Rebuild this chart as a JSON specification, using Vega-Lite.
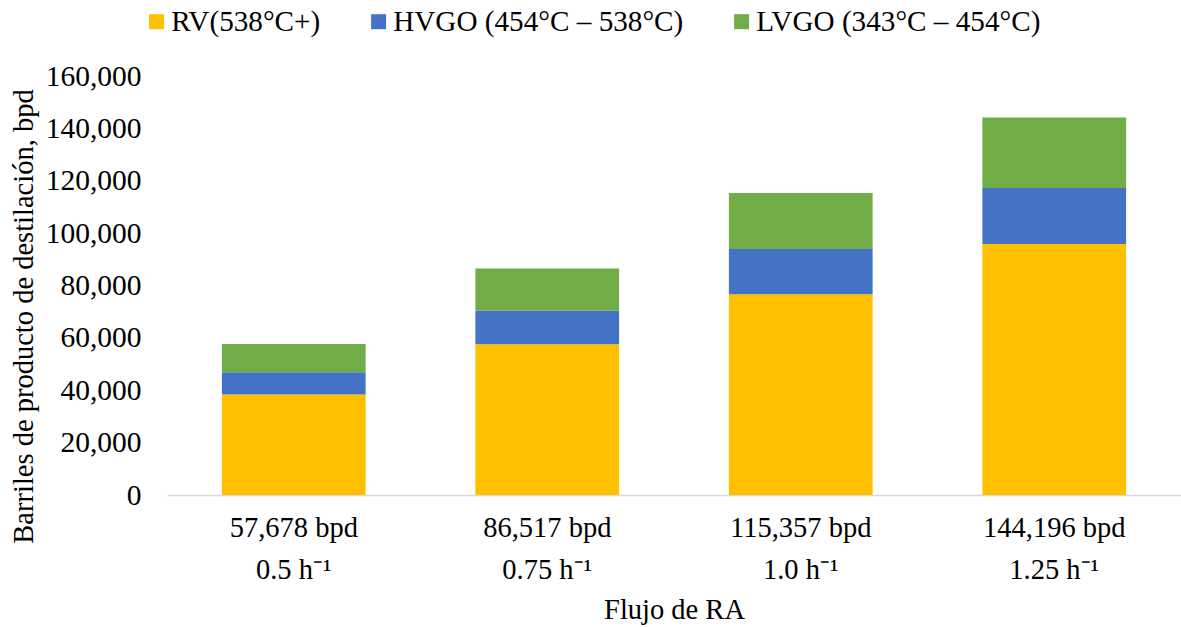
{
  "$schema": "https://vega.github.io/schema/vega-lite/v6.json",
  "autosize": {"type": "none"},
  "width": 1014,
  "height": 419,
  "padding": {"left": 167, "top": 76, "right": 0, "bottom": 132},
  "background": "#ffffff",
  "config": {
    "view": {"stroke": null},
    "font": "Liberation Serif",
    "axis": {"labelFont": "Liberation Serif", "titleFont": "Liberation Serif", "labelColor": "#000000", "titleColor": "#000000", "titleFontWeight": "normal"},
    "legend": {"labelFont": "Liberation Serif", "labelColor": "#000000"}
  },
  "data": {
    "values": [
      {"flujo": "57,678 bpd|0.5 h⁻¹", "fraccion": "RV(538°C+)", "orden": 1, "bpd": 38400},
      {"flujo": "57,678 bpd|0.5 h⁻¹", "fraccion": "HVGO (454°C – 538°C)", "orden": 2, "bpd": 8500},
      {"flujo": "57,678 bpd|0.5 h⁻¹", "fraccion": "LVGO (343°C – 454°C)", "orden": 3, "bpd": 10778},
      {"flujo": "86,517 bpd|0.75 h⁻¹", "fraccion": "RV(538°C+)", "orden": 1, "bpd": 57600},
      {"flujo": "86,517 bpd|0.75 h⁻¹", "fraccion": "HVGO (454°C – 538°C)", "orden": 2, "bpd": 12900},
      {"flujo": "86,517 bpd|0.75 h⁻¹", "fraccion": "LVGO (343°C – 454°C)", "orden": 3, "bpd": 16017},
      {"flujo": "115,357 bpd|1.0 h⁻¹", "fraccion": "RV(538°C+)", "orden": 1, "bpd": 76700},
      {"flujo": "115,357 bpd|1.0 h⁻¹", "fraccion": "HVGO (454°C – 538°C)", "orden": 2, "bpd": 17200},
      {"flujo": "115,357 bpd|1.0 h⁻¹", "fraccion": "LVGO (343°C – 454°C)", "orden": 3, "bpd": 21457},
      {"flujo": "144,196 bpd|1.25 h⁻¹", "fraccion": "RV(538°C+)", "orden": 1, "bpd": 95800},
      {"flujo": "144,196 bpd|1.25 h⁻¹", "fraccion": "HVGO (454°C – 538°C)", "orden": 2, "bpd": 21400},
      {"flujo": "144,196 bpd|1.25 h⁻¹", "fraccion": "LVGO (343°C – 454°C)", "orden": 3, "bpd": 26996}
    ]
  },
  "mark": {"type": "bar"},
  "encoding": {
    "x": {
      "field": "flujo",
      "type": "nominal",
      "sort": null,
      "scale": {"paddingInner": 0.433, "paddingOuter": 0.2165},
      "axis": {
        "title": "Flujo de RA",
        "titleFont": "Liberation Serif",
        "titleFontSize": 28.5,
        "titleY": 123,
        "titleBaseline": "alphabetic",
        "labelExpr": "split(datum.value, '|')",
        "labelAngle": 0,
        "labelFont": "Liberation Serif",
        "labelFontSize": 28.5,
        "labelLineHeight": 42,
        "labelBaseline": "top",
        "labelPadding": 18,
        "labelLimit": 0,
        "ticks": false,
        "domainColor": "#d9d9d9",
        "domainWidth": 1.5
      }
    },
    "y": {
      "field": "bpd",
      "type": "quantitative",
      "stack": "zero",
      "scale": {"domain": [0, 160000], "nice": false},
      "axis": {
        "title": "Barriles de producto de destilación, bpd",
        "titleFont": "Liberation Serif",
        "titleFontSize": 28.5,
        "titleX": -144,
        "titleY": 240,
        "titleAngle": -90,
        "titleBaseline": "middle",
        "titleAlign": "center",
        "values": [0, 20000, 40000, 60000, 80000, 100000, 120000, 140000, 160000],
        "format": ",.0f",
        "labelFont": "Liberation Serif",
        "labelFontSize": 29.5,
        "labelPadding": 26,
        "ticks": false,
        "domain": false,
        "grid": false
      }
    },
    "color": {
      "field": "fraccion",
      "type": "nominal",
      "scale": {
        "domain": ["RV(538°C+)", "HVGO (454°C – 538°C)", "LVGO (343°C – 454°C)"],
        "range": ["#FFC000", "#4472C4", "#70AD47"]
      },
      "legend": {
        "title": null,
        "orient": "none",
        "direction": "horizontal",
        "legendX": -25,
        "legendY": -69,
        "symbolType": "square",
        "symbolSize": 225,
        "symbolStrokeWidth": 0,
        "symbolOpacity": 1,
        "labelFont": "Liberation Serif",
        "labelFontSize": 29.2,
        "labelOffset": 0,
        "labelLimit": 400,
        "columnPadding": 43,
        "padding": 0
      }
    },
    "order": {"field": "orden", "type": "quantitative"}
  }
}
